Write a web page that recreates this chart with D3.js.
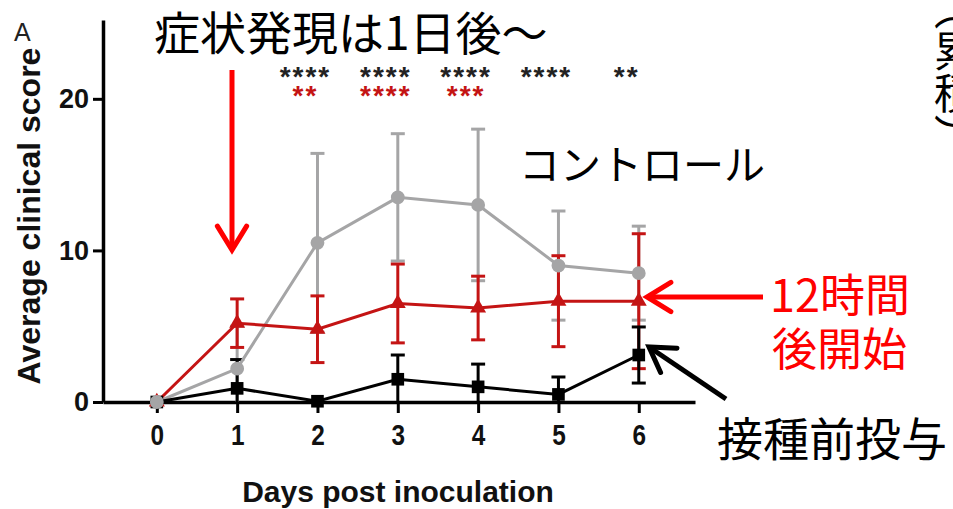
<!DOCTYPE html>
<html lang="ja">
<head>
<meta charset="UTF-8">
<title>Average clinical score</title>
<script src="https://d3js.org/d3.v7.min.js"></script>
<style>
  body { margin: 0; background: #fff; }
  svg { display: block; }
  .lat { font-family: "Liberation Sans", Arial, sans-serif; }
  .cjk { font-family: "Noto Sans CJK JP", sans-serif; }
</style>
</head>
<body>
<div id="chart"></div>
<script>
// days post inoculation
const days = [0, 1, 2, 3, 4, 5, 6];
const xTicks = [0, 1, 2, 3, 4, 5, 6];
const yTicks = [0, 10, 20];

// コントロール (gray circles)
const controlMean = [0, 2.2, 10.5, 13.5, 13.0, 9.0, 8.5];
const controlSD   = [0, 2.8, 5.9, 4.2, 5.0, 3.6, 3.1];
// 12時間後開始 (red triangles)
const h12Mean = [0, 5.2, 4.8, 6.5, 6.2, 6.65, 6.65];
const h12SD   = [0, 1.6, 2.2, 2.6, 2.1, 3.0, 4.45];
// 接種前投与 (black squares)
const preMean = [0, 0.9, 0.05, 1.5, 1.0, 0.5, 3.1];
const preSD   = [0, 1.9, 0, 1.6, 1.5, 1.15, 1.85];

// significance stars
const starDaysBlack = [2, 3, 4, 5, 6];
const starsBlack = ["****", "****", "****", "****", "**"];
const starDaysRed = [2, 3, 4];
const starsRed = ["**", "****", "***"];

const W = 953, H = 509;
const svg = d3.select("#chart").append("svg")
    .attr("width", W).attr("height", H);

const x = d3.scaleLinear().domain([-0.67, 6.7]).range([103, 695]);
const y = d3.scaleLinear().domain([0, 25.2]).range([402, 20]);

// axes
const xAxis = svg.append("g")
    .attr("transform", "translate(0," + y(0) + ")")
    .call(d3.axisBottom(x).tickValues(xTicks).tickSize(11).tickSizeOuter(0).tickPadding(11));
const yAxis = svg.append("g")
    .attr("transform", "translate(" + x(-0.67) + ",0)")
    .call(d3.axisLeft(y).tickValues(yTicks).tickSize(10).tickSizeOuter(0).tickPadding(4));

[xAxis, yAxis].forEach(a => {
    a.select(".domain").attr("stroke", "#000").attr("stroke-width", 3.5);
    a.selectAll(".tick line").attr("stroke", "#000").attr("stroke-width", 3);
    a.selectAll(".tick text").attr("class", "lat")
        .attr("font-size", 27).attr("font-weight", "bold").attr("fill", "#111");
});
// the reference digits on the x axis look narrow and tall
xAxis.selectAll(".tick text").attr("font-size", 29).attr("transform", "scale(0.84,1)");

// axis titles
svg.append("text").attr("class", "lat")
    .attr("x", 398).attr("y", 502)
    .attr("text-anchor", "middle").attr("font-size", 30).attr("font-weight", "bold")
    .attr("fill", "#111")
    .text("Days post inoculation");
svg.append("text").attr("class", "lat")
    .attr("transform", "translate(40,216) rotate(-90)")
    .attr("text-anchor", "middle").attr("font-size", 32).attr("font-weight", "bold")
    .attr("fill", "#111")
    .text("Average clinical score");
svg.append("text").attr("class", "lat")
    .attr("x", 14).attr("y", 41).attr("font-size", 25).attr("fill", "#222")
    .text("A");

const series = [
    { mean: controlMean, sd: controlSD, color: "#a5a5a6", shape: "circle" },
    { mean: h12Mean, sd: h12SD, color: "#c41414", shape: "triangle" },
    { mean: preMean, sd: preSD, color: "#000", shape: "square" }
];

const cap = 7;
// error bars
series.forEach(s => {
    const g = svg.append("g");
    days.forEach((d, i) => {
        if (s.sd[i] <= 0) return;
        const hi = s.mean[i] + s.sd[i];
        const lo = Math.max(0, s.mean[i] - s.sd[i]);
        g.append("line").attr("x1", x(d)).attr("x2", x(d))
            .attr("y1", y(lo)).attr("y2", y(hi))
            .attr("stroke", s.color).attr("stroke-width", 3);
        g.append("line").attr("x1", x(d) - cap).attr("x2", x(d) + cap)
            .attr("y1", y(hi)).attr("y2", y(hi))
            .attr("stroke", s.color).attr("stroke-width", 3);
        if (s.mean[i] - s.sd[i] > 0) {
            g.append("line").attr("x1", x(d) - cap).attr("x2", x(d) + cap)
                .attr("y1", y(lo)).attr("y2", y(lo))
                .attr("stroke", s.color).attr("stroke-width", 3);
        }
    });
});

// lines
const line = d3.line().x((d, i) => x(days[i])).y(d => y(d));
series.forEach(s => {
    svg.append("path").datum(s.mean)
        .attr("d", line).attr("fill", "none")
        .attr("stroke", s.color).attr("stroke-width", 3);
});

// markers (black, red, then gray on top)
const symSize = { circle: 150, triangle: 110, square: 160 };
const symType = { circle: d3.symbolCircle, triangle: d3.symbolTriangle, square: d3.symbolSquare };
series.slice().reverse().forEach(s => {
    svg.append("g").selectAll("path").data(s.mean).join("path")
        .attr("transform", (d, i) => "translate(" + x(days[i]) + "," + y(d) + ")")
        .attr("d", d3.symbol().type(symType[s.shape]).size(symSize[s.shape]))
        .attr("fill", s.color);
});

// stars
svg.append("g").selectAll("text").data(starsBlack).join("text")
    .attr("class", "lat")
    .attr("x", (d, i) => x(starDaysBlack[i]) - 12).attr("y", 86)
    .attr("text-anchor", "middle").attr("font-size", 28).attr("font-weight", "bold")
    .attr("letter-spacing", 2).attr("fill", "#222")
    .text(d => d);
svg.append("g").selectAll("text").data(starsRed).join("text")
    .attr("class", "lat")
    .attr("x", (d, i) => x(starDaysRed[i]) - 12).attr("y", 105)
    .attr("text-anchor", "middle").attr("font-size", 28).attr("font-weight", "bold")
    .attr("letter-spacing", 2).attr("fill", "#c41414")
    .text(d => d);

// annotations
function label(txt, px, py, size, color) {
    svg.append("text").attr("class", "cjk")
        .attr("x", px).attr("y", py).attr("font-size", size).attr("fill", color)
        .text(txt);
}
label("症状発現は1日後～", 154, 50, 46, "#000");
label("コントロール", 519, 180, 41, "#000");
label("12時間", 770, 312, 45, "#ff0000");
label("後開始", 772, 366, 45, "#ff0000");
label("接種前投与", 717, 456, 46, "#000");

svg.append("text").attr("class", "cjk")
    .attr("x", 955).attr("y", -12)
    .attr("writing-mode", "tb").attr("font-size", 42).attr("fill", "#000")
    .text("（累積）");

// arrows
function arrow(x1, y1, x2, y2, color, w, head) {
    const a = Math.atan2(y2 - y1, x2 - x1);
    svg.append("line").attr("x1", x1).attr("y1", y1).attr("x2", x2).attr("y2", y2)
        .attr("stroke", color).attr("stroke-width", w);
    const p = [-0.55, 0.55].map(o => [x2 - head * Math.cos(a + o), y2 - head * Math.sin(a + o)]);
    svg.append("path")
        .attr("d", "M" + p[0] + "L" + x2 + "," + y2 + "L" + p[1])
        .attr("fill", "none").attr("stroke", color).attr("stroke-width", w)
        .attr("stroke-linecap", "round").attr("stroke-linejoin", "miter");
}
arrow(232, 70, 232, 250, "#ff0000", 5, 28);
arrow(763, 297, 647, 297, "#ff0000", 5, 28);
arrow(726, 399, 649, 347, "#000", 5, 28);
</script>
</body>
</html>
